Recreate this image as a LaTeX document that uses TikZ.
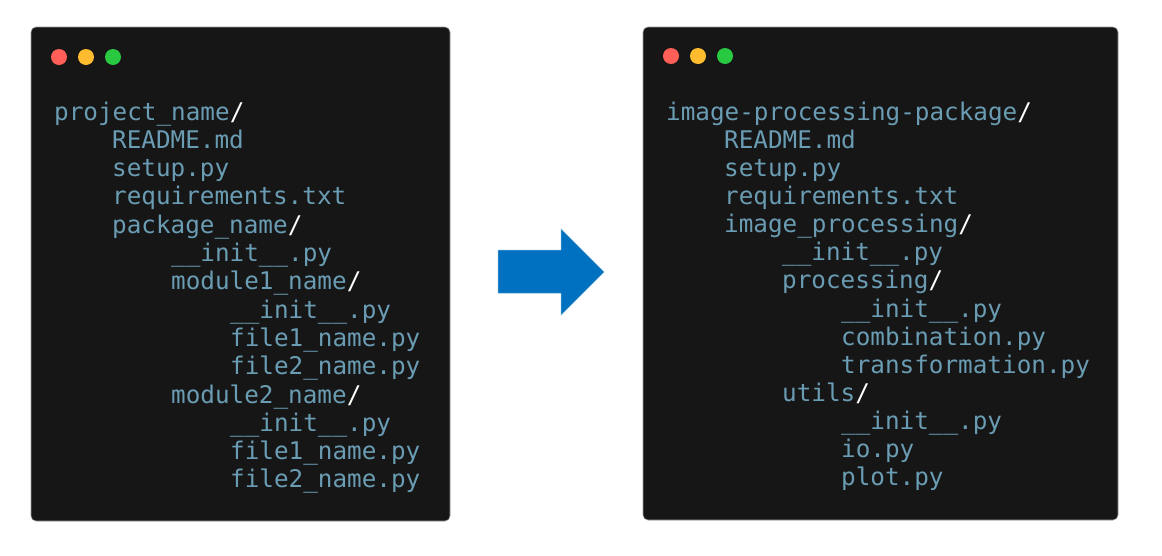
\documentclass[tikz,border=0pt]{standalone}
\usepackage{fontspec}
\setmonofont{DejaVu Sans Mono}
\definecolor{panelbg}{HTML}{161616}
\definecolor{panelrim}{HTML}{9A9A9A}
\definecolor{codetxt}{HTML}{6A9CB3}
\definecolor{dotred}{HTML}{FF5F57}
\definecolor{dotyel}{HTML}{FEBC2E}
\definecolor{dotgrn}{HTML}{28C840}
\definecolor{arrowblue}{HTML}{0070C0}
\newcommand{\wsl}{{\color{white}/}}
\tikzset{
  panel/.style={fill=panelbg, draw=panelrim, line width=0.6pt, rounded corners=5pt},
  code/.style={anchor=base west, inner sep=0pt, text=codetxt, font=\ttfamily\fontsize{24.3}{29}\selectfont},
  wdot/.style={circle, inner sep=0pt, minimum size=16pt},
}
\begin{document}
\begin{tikzpicture}[x=1pt,y=-1pt]
\useasboundingbox (0,0) rectangle (1162,555);
% panels
\draw[panel] (31,27) rectangle (450,521);
\draw[panel] (643,27) rectangle (1118,520);
% window dots
\node[wdot, fill=dotred] (ld1) at (59,57) {};
\node[wdot, fill=dotyel] (ld2) at (86,57) {};
\node[wdot, fill=dotgrn] (ld3) at (113,57) {};
\node[wdot, fill=dotred] (rd1) at (671,56) {};
\node[wdot, fill=dotyel] (rd2) at (698,56) {};
\node[wdot, fill=dotgrn] (rd3) at (725,56) {};
% left tree
\def\ls{28.3}
\node[code] (l0)  at (54, 120+0*\ls)  {project\_name\wsl};
\node[code] (l1)  at (112,120+1*\ls)  {README.md};
\node[code] (l2)  at (112,120+2*\ls)  {setup.py};
\node[code] (l3)  at (112,120+3*\ls)  {requirements.txt};
\node[code] (l4)  at (112,120+4*\ls)  {package\_name\wsl};
\node[code] (l5)  at (171,120+5*\ls)  {\_\_init\_\_.py};
\node[code] (l6)  at (171,120+6*\ls)  {module1\_name\wsl};
\node[code] (l7)  at (230,120+7*\ls)  {\_\_init\_\_.py};
\node[code] (l8)  at (230,120+8*\ls)  {file1\_name.py};
\node[code] (l9)  at (230,120+9*\ls)  {file2\_name.py};
\node[code] (l10) at (171,120+10*\ls) {module2\_name\wsl};
\node[code] (l11) at (230,120+11*\ls) {\_\_init\_\_.py};
\node[code] (l12) at (230,120+12*\ls) {file1\_name.py};
\node[code] (l13) at (230,120+13*\ls) {file2\_name.py};
% right tree
\def\rs{28.15}
\node[code] (r0)  at (666,120+0*\rs)  {image-processing-package\wsl};
\node[code] (r1)  at (724,120+1*\rs)  {README.md};
\node[code] (r2)  at (724,120+2*\rs)  {setup.py};
\node[code] (r3)  at (724,120+3*\rs)  {requirements.txt};
\node[code] (r4)  at (724,120+4*\rs)  {image\_processing\wsl};
\node[code] (r5)  at (782,120+5*\rs)  {\_\_init\_\_.py};
\node[code] (r6)  at (782,120+6*\rs)  {processing\wsl};
\node[code] (r7)  at (841,120+7*\rs)  {\_\_init\_\_.py};
\node[code] (r8)  at (841,120+8*\rs)  {combination.py};
\node[code] (r9)  at (841,120+9*\rs)  {transformation.py};
\node[code] (r10) at (782,120+10*\rs) {utils\wsl};
\node[code] (r11) at (841,120+11*\rs) {\_\_init\_\_.py};
\node[code] (r12) at (841,120+12*\rs) {io.py};
\node[code] (r13) at (841,120+13*\rs) {plot.py};
% block arrow
\fill[arrowblue, draw=arrowblue!60!white, line width=0.5pt]
  (498,250) -- (561,250) -- (561,229) -- (604,272) -- (561,315) -- (561,293) -- (498,293) -- cycle;
\end{tikzpicture}
\end{document}
